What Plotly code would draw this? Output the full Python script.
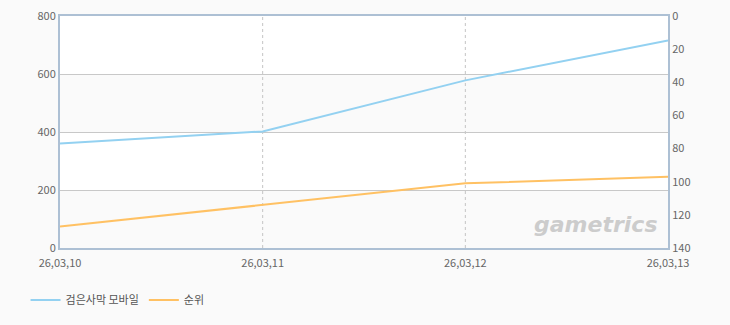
import plotly.graph_objects as go

dates = ["26,03,10", "26,03,11", "26,03,12", "26,03,13"]
users = [360, 402, 578, 716]
rank = [127, 114, 101, 97]
series_names = ["검은사막 모바일", "순위"]
left_ticks = [0, 200, 400, 600, 800]
right_ticks = [0, 20, 40, 60, 80, 100, 120, 140]

fig = go.Figure()
fig.add_trace(go.Scatter(x=dates, y=users, name=series_names[0], mode="lines",
                         line=dict(color="#93d1f1", width=2), yaxis="y"))
fig.add_trace(go.Scatter(x=dates, y=rank, name=series_names[1], mode="lines",
                         line=dict(color="#ffc163", width=2), yaxis="y2"))

shapes = []
for i in range(len(left_ticks) - 1):
    shapes.append(dict(type="rect", xref="paper", yref="y", x0=0, x1=1,
                       y0=left_ticks[i], y1=left_ticks[i + 1],
                       fillcolor="#fafafa" if i % 2 == 0 else "#ffffff",
                       line=dict(width=0), layer="below"))
for d in dates[1:-1]:
    shapes.append(dict(type="line", xref="x", yref="paper", x0=d, x1=d, y0=0, y1=1,
                       line=dict(color="#c4c4c4", width=1, dash="3px,3px"), layer="below"))

fig.update_layout(
    width=730, height=325,
    margin=dict(l=60, r=62, t=16, b=77, autoexpand=False),
    paper_bgcolor="#fafafa", plot_bgcolor="#ffffff",
    font=dict(family="Noto Sans CJK KR, Noto Sans, sans-serif", size=11, color="#666666"),
    shapes=shapes,
    xaxis=dict(type="category", range=[0, len(dates) - 1], showgrid=False,
               showline=True, linecolor="#adc0d4", linewidth=2, mirror=True,
               ticks="", tickfont=dict(size=11, color="#666666"), zeroline=False,
               automargin=False, ticklabelstandoff=4),
    yaxis=dict(range=[0, 800], tickvals=left_ticks, showgrid=True, gridcolor="#c8c8c8",
               gridwidth=1, showline=True, linecolor="#adc0d4", linewidth=2,
               ticks="", zeroline=False, tickfont=dict(size=11, color="#666666"),
               automargin=False),
    yaxis2=dict(range=[140, 0], tickvals=right_ticks, overlaying="y", side="right",
                showgrid=False, showline=True, linecolor="#adc0d4", linewidth=2,
                ticks="", zeroline=False, tickfont=dict(size=11, color="#666666"),
                automargin=False),
    legend=dict(orientation="h", xref="container", yref="container",
                x=0.035, y=1 - 300 / 325, xanchor="left", yanchor="middle",
                font=dict(size=11, color="#555555"), itemwidth=30,
                bgcolor="rgba(0,0,0,0)"),
    annotations=[dict(text="<b><i>gametrics</i></b>", xref="paper", yref="paper",
                      x=0.985, y=0.04, xanchor="right", yanchor="bottom",
                      showarrow=False, font=dict(size=22, color="#cccccc",
                                                 family="DejaVu Sans"))],
    showlegend=True,
)

fig.write_html("out.html")
